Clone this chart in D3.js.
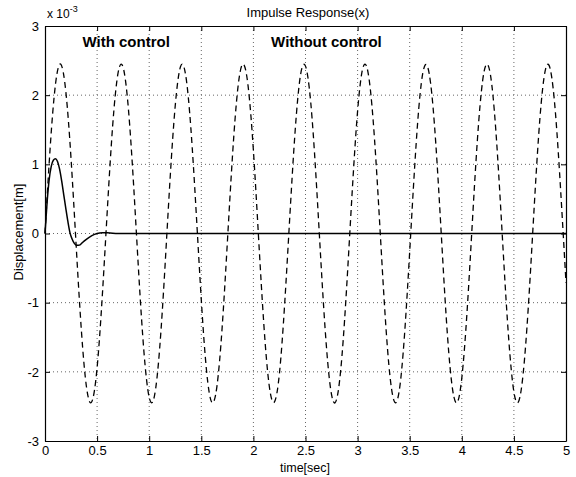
<!DOCTYPE html>
<html>
<head>
<meta charset="utf-8">
<script src="https://cdn.jsdelivr.net/npm/d3@7"></script>
<style>
  html, body { margin: 0; padding: 0; background: #fff; }
  svg { display: block; }
  text { font-family: "Liberation Sans", Arial, Helvetica, sans-serif; fill: #000; }
</style>
</head>
<body>
<svg id="chart" width="576" height="477"></svg>
<script>
// ---- data (displacement in units of 1e-3 m) ----
const xTicks = [0, 0.5, 1, 1.5, 2, 2.5, 3, 3.5, 4, 4.5, 5];
const xTickLabels = ["0", "0.5", "1", "1.5", "2", "2.5", "3", "3.5", "4", "4.5", "5"];
const yTicks = [-3, -2, -1, 0, 1, 2, 3];
const yTickLabels = ["-3", "-2", "-1", "0", "1", "2", "3"];

// without control (dashed), sampled every 0.05 s from t = 0 to 5
const uncontrolledTime = d3.range(0, 101).map(i => +(i * 0.05).toFixed(2));
const uncontrolledValues = [
  0, 1.25, 2.15, 2.45, 2.05, 1.08, -0.20, -1.42, -2.24, -2.43,
  -1.94, -0.90, 0.39, 1.57, 2.31, 2.40, 1.81, 0.71, -0.59, -1.72,
  -2.37, -2.35, -1.67, -0.52, 0.78, 1.85, 2.41, 2.29, 1.52, 0.33,
  -0.96, -1.98, -2.44, -2.21, -1.36, -0.13, 1.14, 2.09, 2.45, 2.12,
  1.20, -0.07, -1.31, -2.18, -2.44, -2.02, -1.02, 0.26, 1.47, 2.27,
  2.42, 1.90, 0.84, -0.46, -1.62, -2.33, -2.39, -1.77, -0.65, 0.65,
  1.77, 2.39, 2.33, 1.62, 0.46, -0.84, -1.90, -2.42, -2.27, -1.47,
  -0.26, 1.02, 2.02, 2.44, 2.18, 1.31, 0.07, -1.20, -2.12, -2.45,
  -2.09, -1.14, 0.13, 1.36, 2.21, 2.44, 1.98, 0.96, -0.33, -1.52,
  -2.29, -2.41, -1.85, -0.78, 0.52, 1.67, 2.35, 2.37, 1.72, 0.59,
  -0.71
];

// with control (solid)
const controlledTime = [0, 0.02, 0.04, 0.06, 0.08, 0.10, 0.12, 0.14, 0.16, 0.18,
  0.20, 0.22, 0.24, 0.26, 0.28, 0.30, 0.32, 0.34, 0.36, 0.40,
  0.45, 0.50, 0.55, 0.60, 0.70, 1.0, 2.0, 3.0, 4.0, 5.0];
const controlledValues = [0, 0.45, 0.78, 0.97, 1.06, 1.08, 1.04, 0.93, 0.76, 0.56,
  0.36, 0.17, 0.01, -0.08, -0.14, -0.17, -0.17, -0.16, -0.13, -0.08,
  -0.03, 0.0, 0.01, 0.01, 0.0, 0.0, 0.0, 0.0, 0.0, 0.0];

// ---- layout ----
const svg = d3.select("#chart");
const margin = { left: 45, top: 26, right: 10, bottom: 36 };
const W = 576, H = 477;
const pw = W - margin.left - margin.right;   // 521
const ph = H - margin.top - margin.bottom;   // 415

const x = d3.scaleLinear().domain([0, 5]).range([0, pw]);
const y = d3.scaleLinear().domain([-3, 3]).range([ph, 0]);

const g = svg.append("g").attr("transform", `translate(${margin.left},${margin.top})`);

// grid
g.append("g").selectAll("line").data(xTicks.slice(1, -1)).join("line")
  .attr("x1", d => x(d)).attr("x2", d => x(d)).attr("y1", 0).attr("y2", ph)
  .attr("stroke", "#666").attr("stroke-width", 1).attr("stroke-dasharray", "1,3");
g.append("g").selectAll("line").data(yTicks.slice(1, -1)).join("line")
  .attr("y1", d => y(d)).attr("y2", d => y(d)).attr("x1", 0).attr("x2", pw)
  .attr("stroke", "#666").attr("stroke-width", 1).attr("stroke-dasharray", "1,3");

// lines
const line = d3.line().x(d => x(d[0])).y(d => y(d[1])).curve(d3.curveNatural);
g.append("path")
  .datum(uncontrolledTime.map((t, i) => [t, uncontrolledValues[i]]))
  .attr("d", line).attr("fill", "none").attr("stroke", "#000")
  .attr("stroke-width", 1.3).attr("stroke-dasharray", "6,4");
const line2 = d3.line().x(d => x(d[0])).y(d => y(d[1])).curve(d3.curveMonotoneX);
g.append("path")
  .datum(controlledTime.map((t, i) => [t, controlledValues[i]]))
  .attr("d", line2).attr("fill", "none").attr("stroke", "#000")
  .attr("stroke-width", 1.5);

// axes (inward ticks on all sides)
const fmtX = (d, i) => xTickLabels[i];
const fmtY = (d, i) => yTickLabels[i];
const axB = g.append("g").attr("transform", `translate(0,${ph})`)
  .call(d3.axisBottom(x).tickValues(xTicks).tickFormat(fmtX).tickSizeInner(-5).tickSizeOuter(0).tickPadding(5));
const axT = g.append("g")
  .call(d3.axisTop(x).tickValues(xTicks).tickFormat("").tickSizeInner(-5).tickSizeOuter(0));
const axL = g.append("g")
  .call(d3.axisLeft(y).tickValues(yTicks).tickFormat(fmtY).tickSizeInner(-5).tickSizeOuter(0).tickPadding(6));
const axR = g.append("g").attr("transform", `translate(${pw},0)`)
  .call(d3.axisRight(y).tickValues(yTicks).tickFormat("").tickSizeInner(-5).tickSizeOuter(0));
[axB, axT, axL, axR].forEach(a => {
  a.select(".domain").attr("stroke", "#000").attr("stroke-width", 1.2);
  a.selectAll(".tick line").attr("stroke", "#000");
  a.selectAll("text").attr("font-family", "'Liberation Sans', Arial, sans-serif").attr("font-size", 13).attr("fill", "#000");
});

// labels
svg.append("text").attr("x", 308).attr("y", 17).attr("text-anchor", "middle")
  .attr("font-size", 13).text("Impulse Response(x)");
svg.append("text").attr("x", 305).attr("y", 472).attr("text-anchor", "middle")
  .attr("font-size", 12.5).text("time[sec]");
svg.append("text").attr("transform", "translate(23,232) rotate(-90)").attr("text-anchor", "middle")
  .attr("font-size", 13).text("Displacement[m]");
const exp = svg.append("text").attr("x", 47).attr("y", 18).attr("font-size", 12);
exp.append("tspan").text("x 10");
exp.append("tspan").attr("dy", -6).attr("font-size", 9).text("-3");

g.append("text").attr("x", x(0.36)).attr("y", y(2.7)).attr("font-size", 15).attr("font-weight", "bold")
  .text("With control");
g.append("text").attr("x", x(2.17)).attr("y", y(2.7)).attr("font-size", 15).attr("font-weight", "bold")
  .text("Without control");
</script>
</body>
</html>
